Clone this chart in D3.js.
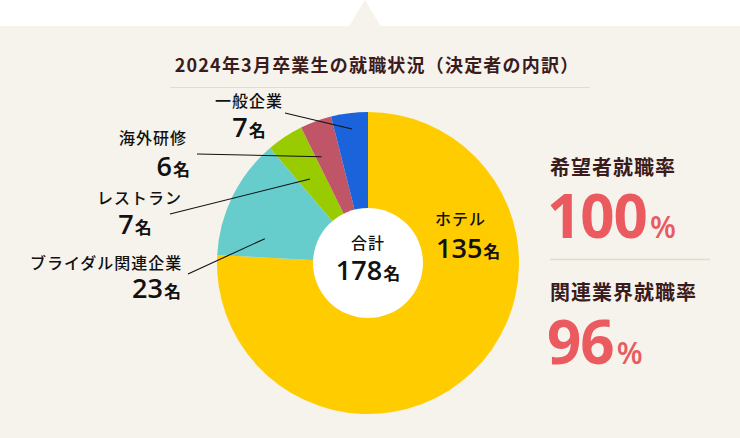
<!DOCTYPE html>
<html><head><meta charset="utf-8">
<script src="https://cdn.jsdelivr.net/npm/d3@7/dist/d3.min.js"></script>
<style>
html,body{margin:0;padding:0;background:#fff;}
svg{display:block;font-family:"Noto Sans CJK JP","Noto Sans",sans-serif;}
.num{font-family:"Open Sans","Noto Sans",sans-serif;}
</style></head>
<body>
<script>
// ---- data ----
const categories = ["ホテル","ブライダル関連企業","レストラン","海外研修","一般企業"];
const counts = [135, 23, 7, 6, 7];
const sliceColors = ["#ffcc00","#66cccc","#99cc00","#bf5566","#1b63da"];
const unit = "名";
const title = "2024年3月卒業生の就職状況（決定者の内訳）";
const totalLabel = "合計";
const rateLabels = ["希望者就職率","関連業界就職率"];
const rateValues = [100, 96];

// ---- layout (positions only) ----
const W = 740, H = 438;
const cx = 368, cy = 263, R = 151, innerR = 55;
const labelLayout = [
  {nx:435, ny:225, na:"start",  vx:436, vy:258, va:"start"},
  {nx:30,  ny:269, na:"start",  vx:181, vy:298, va:"end",    lx:188, ly:274, t:0.22, r:106},
  {nx:97,  ny:204, na:"start",  vx:135, vy:234, va:"middle", lx:170, ly:214, t:0.41, r:102},
  {nx:119, ny:144, na:"start",  vx:190, vy:176, va:"end",    lx:197, ly:154, t:0.22, r:116},
  {nx:249, ny:107, na:"middle", vx:249, vy:137, va:"middle", lx:285, ly:113, t:0.52, r:135}
];

const svg = d3.select("body").append("svg").attr("width", W).attr("height", H);

// panel background with pointer
svg.append("rect").attr("x",0).attr("y",26).attr("width",W).attr("height",H-26).attr("fill","#f6f3ed");
svg.append("path").attr("d","M349,26.5 L365,0 L381,26.5 Z").attr("fill","#f6f3ed");

// title
svg.append("text").attr("x",377).attr("y",72).attr("text-anchor","middle")
  .attr("font-size",18).attr("font-weight",700).attr("letter-spacing",1.2)
  .attr("fill","#3b1b1b").text(title);
svg.append("line").attr("x1",170).attr("x2",590).attr("y1",87.5).attr("y2",87.5)
  .attr("stroke","#e3dccb").attr("stroke-width",1);

// pie
const pie = d3.pie().sort(null).value(d => d)(counts);
const arc = d3.arc().innerRadius(0).outerRadius(R);
const g = svg.append("g").attr("transform",`translate(${cx},${cy})`);
g.selectAll("path.slice").data(pie).join("path").attr("class","slice")
  .attr("d", arc).attr("fill",(d,i)=>sliceColors[i]);

// leader lines
pie.forEach((d,i)=>{
  const L = labelLayout[i];
  if (L.lx === undefined) return;
  const a = d.startAngle + L.t*(d.endAngle - d.startAngle);
  const px = cx + L.r*Math.sin(a), py = cy - L.r*Math.cos(a);
  svg.append("line").attr("x1",L.lx).attr("y1",L.ly).attr("x2",px).attr("y2",py)
    .attr("stroke","#111").attr("stroke-width",1.1);
});

// labels
pie.forEach((d,i)=>{
  const L = labelLayout[i];
  svg.append("text").attr("x",L.nx).attr("y",L.ny).attr("text-anchor",L.na)
    .attr("font-size",16).attr("font-weight",500).attr("letter-spacing",1)
    .attr("fill","#111").text(categories[i]);
  const t = svg.append("text").attr("x",L.vx).attr("y",L.vy).attr("text-anchor",L.va).attr("fill","#111");
  t.append("tspan").attr("class","num").attr("font-size",27).attr("font-weight",600).text(counts[i]);
  t.append("tspan").attr("font-size",17).attr("font-weight",700).attr("dx",1).text(unit);
});

// center total
svg.append("circle").attr("cx",cx).attr("cy",cy).attr("r",innerR).attr("fill","#fff");
svg.append("text").attr("x",cx).attr("y",249).attr("text-anchor","middle")
  .attr("font-size",16).attr("font-weight",500).attr("letter-spacing",1).attr("fill","#111").text(totalLabel);
const tt = svg.append("text").attr("x",cx).attr("y",280).attr("text-anchor","middle").attr("fill","#111");
tt.append("tspan").attr("class","num").attr("font-size",27).attr("font-weight",600).text(d3.sum(counts));
tt.append("tspan").attr("font-size",17).attr("font-weight",700).attr("dx",1).text(unit);

// right-side rates
const rateY = [[175,238],[300,364]];
rateLabels.forEach((lab,i)=>{
  svg.append("text").attr("x",550).attr("y",rateY[i][0]).attr("font-size",20).attr("font-weight",700)
    .attr("letter-spacing",1).attr("fill","#3b1b1b").text(lab);
  const v = svg.append("text").attr("class","num").attr("x",547).attr("y",rateY[i][1]).attr("fill","#ea5a5e");
  v.append("tspan").attr("font-size",60).attr("font-weight",700).attr("letter-spacing",-1).text(rateValues[i]);
  v.append("tspan").attr("font-size",30).attr("font-weight",600).attr("dx",3).text("%");
});
svg.append("line").attr("x1",550).attr("x2",710).attr("y1",259.5).attr("y2",259.5)
  .attr("stroke","#e6dcc2").attr("stroke-width",1.5);
</script>
</body></html>
